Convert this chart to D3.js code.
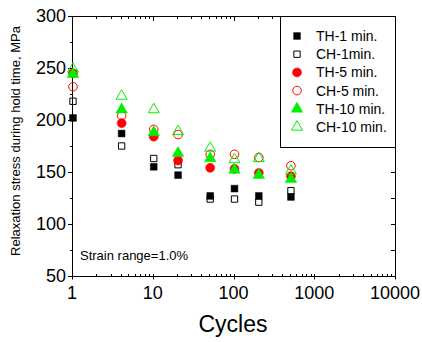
<!DOCTYPE html>
<html>
<head>
<meta charset="utf-8">
<script src="https://cdn.jsdelivr.net/npm/d3@7"></script>
<style>
  body { margin: 0; background: #fff; }
  text { font-family: "Liberation Sans", Arial, sans-serif; fill: #000; }
</style>
</head>
<body>
<div id="chart"></div>
<script>
// data
var cycles = [1, 4, 10, 20, 50, 100, 200, 500];
var th1  = [202, 187, 155, 147, 127, 134, 127, 126];
var ch1  = [218, 175, 163, 157, 124, 124, 121, 132];
var th5  = [245, 197, 184, 161, 154, 153, 149, 146];
var ch5  = [232, 204, 191, 186, 167, 167, 164, 156];
var th10 = [244, 210, 188, 168, 163, 152, 147, 143];
var ch10 = [249, 223, 210, 189, 173, 162, 163, 151];

var seriesNames = ["TH-1 min.", "CH-1min.", "TH-5 min.", "CH-5 min.", "TH-10 min.", "CH-10 min."];
var xTickValues = [1, 10, 100, 1000, 10000];
var yTickValues = [50, 100, 150, 200, 250, 300];
var yMinorValues = [75, 125, 175, 225, 275];

function drawChart() {
  var series = [
    { name: seriesNames[0], values: th1,  shape: d3.symbolSquare,   size: 46, color: "#000",    fill: true },
    { name: seriesNames[1], values: ch1,  shape: d3.symbolSquare,   size: 40, color: "#000",    fill: false },
    { name: seriesNames[2], values: th5,  shape: d3.symbolCircle,   size: 64, color: "#ff0000", fill: true },
    { name: seriesNames[3], values: ch5,  shape: d3.symbolCircle,   size: 58, color: "#ff0000", fill: false },
    { name: seriesNames[4], values: th10, shape: d3.symbolTriangle, size: 58, color: "#00f000", fill: true },
    { name: seriesNames[5], values: ch10, shape: d3.symbolTriangle, size: 52, color: "#00f000", fill: false }
  ];

  var W = 422, H = 342;
  var left = 72, right = 395, top = 16, bottom = 276;

  var svg = d3.select("#chart").append("svg")
    .attr("width", W).attr("height", H);

  var x = d3.scaleLog().domain([1, 10000]).range([left, right]);
  var y = d3.scaleLinear().domain([50, 300]).range([bottom, top]);

  // minor ticks for log axis
  var xMinor = [];
  for (var d = 1; d < 10000; d *= 10) {
    for (var k = 2; k <= 9; k++) xMinor.push(d * k);
  }

  var ax = svg.append("g").attr("stroke", "#000").attr("stroke-width", 1);

  // frame
  ax.append("rect")
    .attr("x", left + 0.5).attr("y", top + 0.5)
    .attr("width", right - left).attr("height", bottom - top)
    .attr("fill", "none");

  // bottom + top ticks
  xTickValues.forEach(function (v) {
    var px = Math.round(x(v)) + 0.5;
    ax.append("line").attr("x1", px).attr("x2", px).attr("y1", bottom - 2).attr("y2", bottom + 3.5);
    ax.append("line").attr("x1", px).attr("x2", px).attr("y1", top).attr("y2", top + 5);
  });
  xMinor.forEach(function (v) {
    var px = Math.round(x(v)) + 0.5;
    ax.append("line").attr("x1", px).attr("x2", px).attr("y1", bottom - 2).attr("y2", bottom + 0.5);
    ax.append("line").attr("x1", px).attr("x2", px).attr("y1", top).attr("y2", top + 3);
  });

  // left + right ticks
  yTickValues.forEach(function (v) {
    var py = Math.round(y(v)) + 0.5;
    ax.append("line").attr("x1", left - 4).attr("x2", left).attr("y1", py).attr("y2", py);
    ax.append("line").attr("x1", right - 4).attr("x2", right).attr("y1", py).attr("y2", py);
  });
  yMinorValues.forEach(function (v) {
    var py = Math.round(y(v)) + 0.5;
    ax.append("line").attr("x1", left - 2).attr("x2", left).attr("y1", py).attr("y2", py);
    ax.append("line").attr("x1", right - 4).attr("x2", right).attr("y1", py).attr("y2", py);
  });

  // tick labels
  svg.append("g").selectAll("text").data(xTickValues).enter().append("text")
    .attr("x", function (d) { return x(d); })
    .attr("y", 299)
    .attr("text-anchor", "middle")
    .style("font-size", "18px")
    .text(function (d) { return d; });

  svg.append("g").selectAll("text").data(yTickValues).enter().append("text")
    .attr("x", 66)
    .attr("y", function (d) { return y(d); })
    .attr("dy", "0.35em")
    .attr("text-anchor", "end")
    .style("font-size", "18px")
    .text(function (d) { return d; });

  // axis titles
  svg.append("text")
    .attr("x", 233).attr("y", 332)
    .attr("text-anchor", "middle")
    .style("font-size", "23px")
    .text("Cycles");

  svg.append("text")
    .attr("transform", "translate(20,141) rotate(-90)")
    .attr("text-anchor", "middle")
    .style("font-size", "13px")
    .text("Relaxation stress during hold time, MPa");

  svg.append("text")
    .attr("x", 80).attr("y", 260)
    .style("font-size", "13px")
    .text("Strain range=1.0%");

  // points
  series.forEach(function (s) {
    var sym = d3.symbol().type(s.shape).size(s.size);
    svg.append("g").selectAll("path")
      .data(cycles.map(function (c, i) { return [c, s.values[i]]; }))
      .enter().append("path")
      .attr("d", sym)
      .attr("transform", function (d) { return "translate(" + (x(d[0]) + 1) + "," + y(d[1]) + ")"; })
      .attr("fill", s.fill ? s.color : "none")
      .attr("stroke", s.color)
      .attr("stroke-width", s.fill ? 0.5 : 1);
  });

  // legend
  var lg = svg.append("g");
  lg.append("rect")
    .attr("x", 280.5).attr("y", top + 0.5)
    .attr("width", right - 280).attr("height", 131)
    .attr("fill", "#fff").attr("stroke", "#000");

  series.forEach(function (s, i) {
    var ly = 36 + i * 18.2;
    lg.append("path")
      .attr("d", d3.symbol().type(s.shape).size(s.size)())
      .attr("transform", "translate(297," + ly + ")")
      .attr("fill", s.fill ? s.color : "#fff")
      .attr("stroke", s.color)
      .attr("stroke-width", s.fill ? 0.5 : 1);
    lg.append("text")
      .attr("x", 316).attr("y", ly)
      .attr("dy", "0.36em")
      .style("font-size", "14px")
      .text(s.name);
  });
}

drawChart();
</script>
</body>
</html>
